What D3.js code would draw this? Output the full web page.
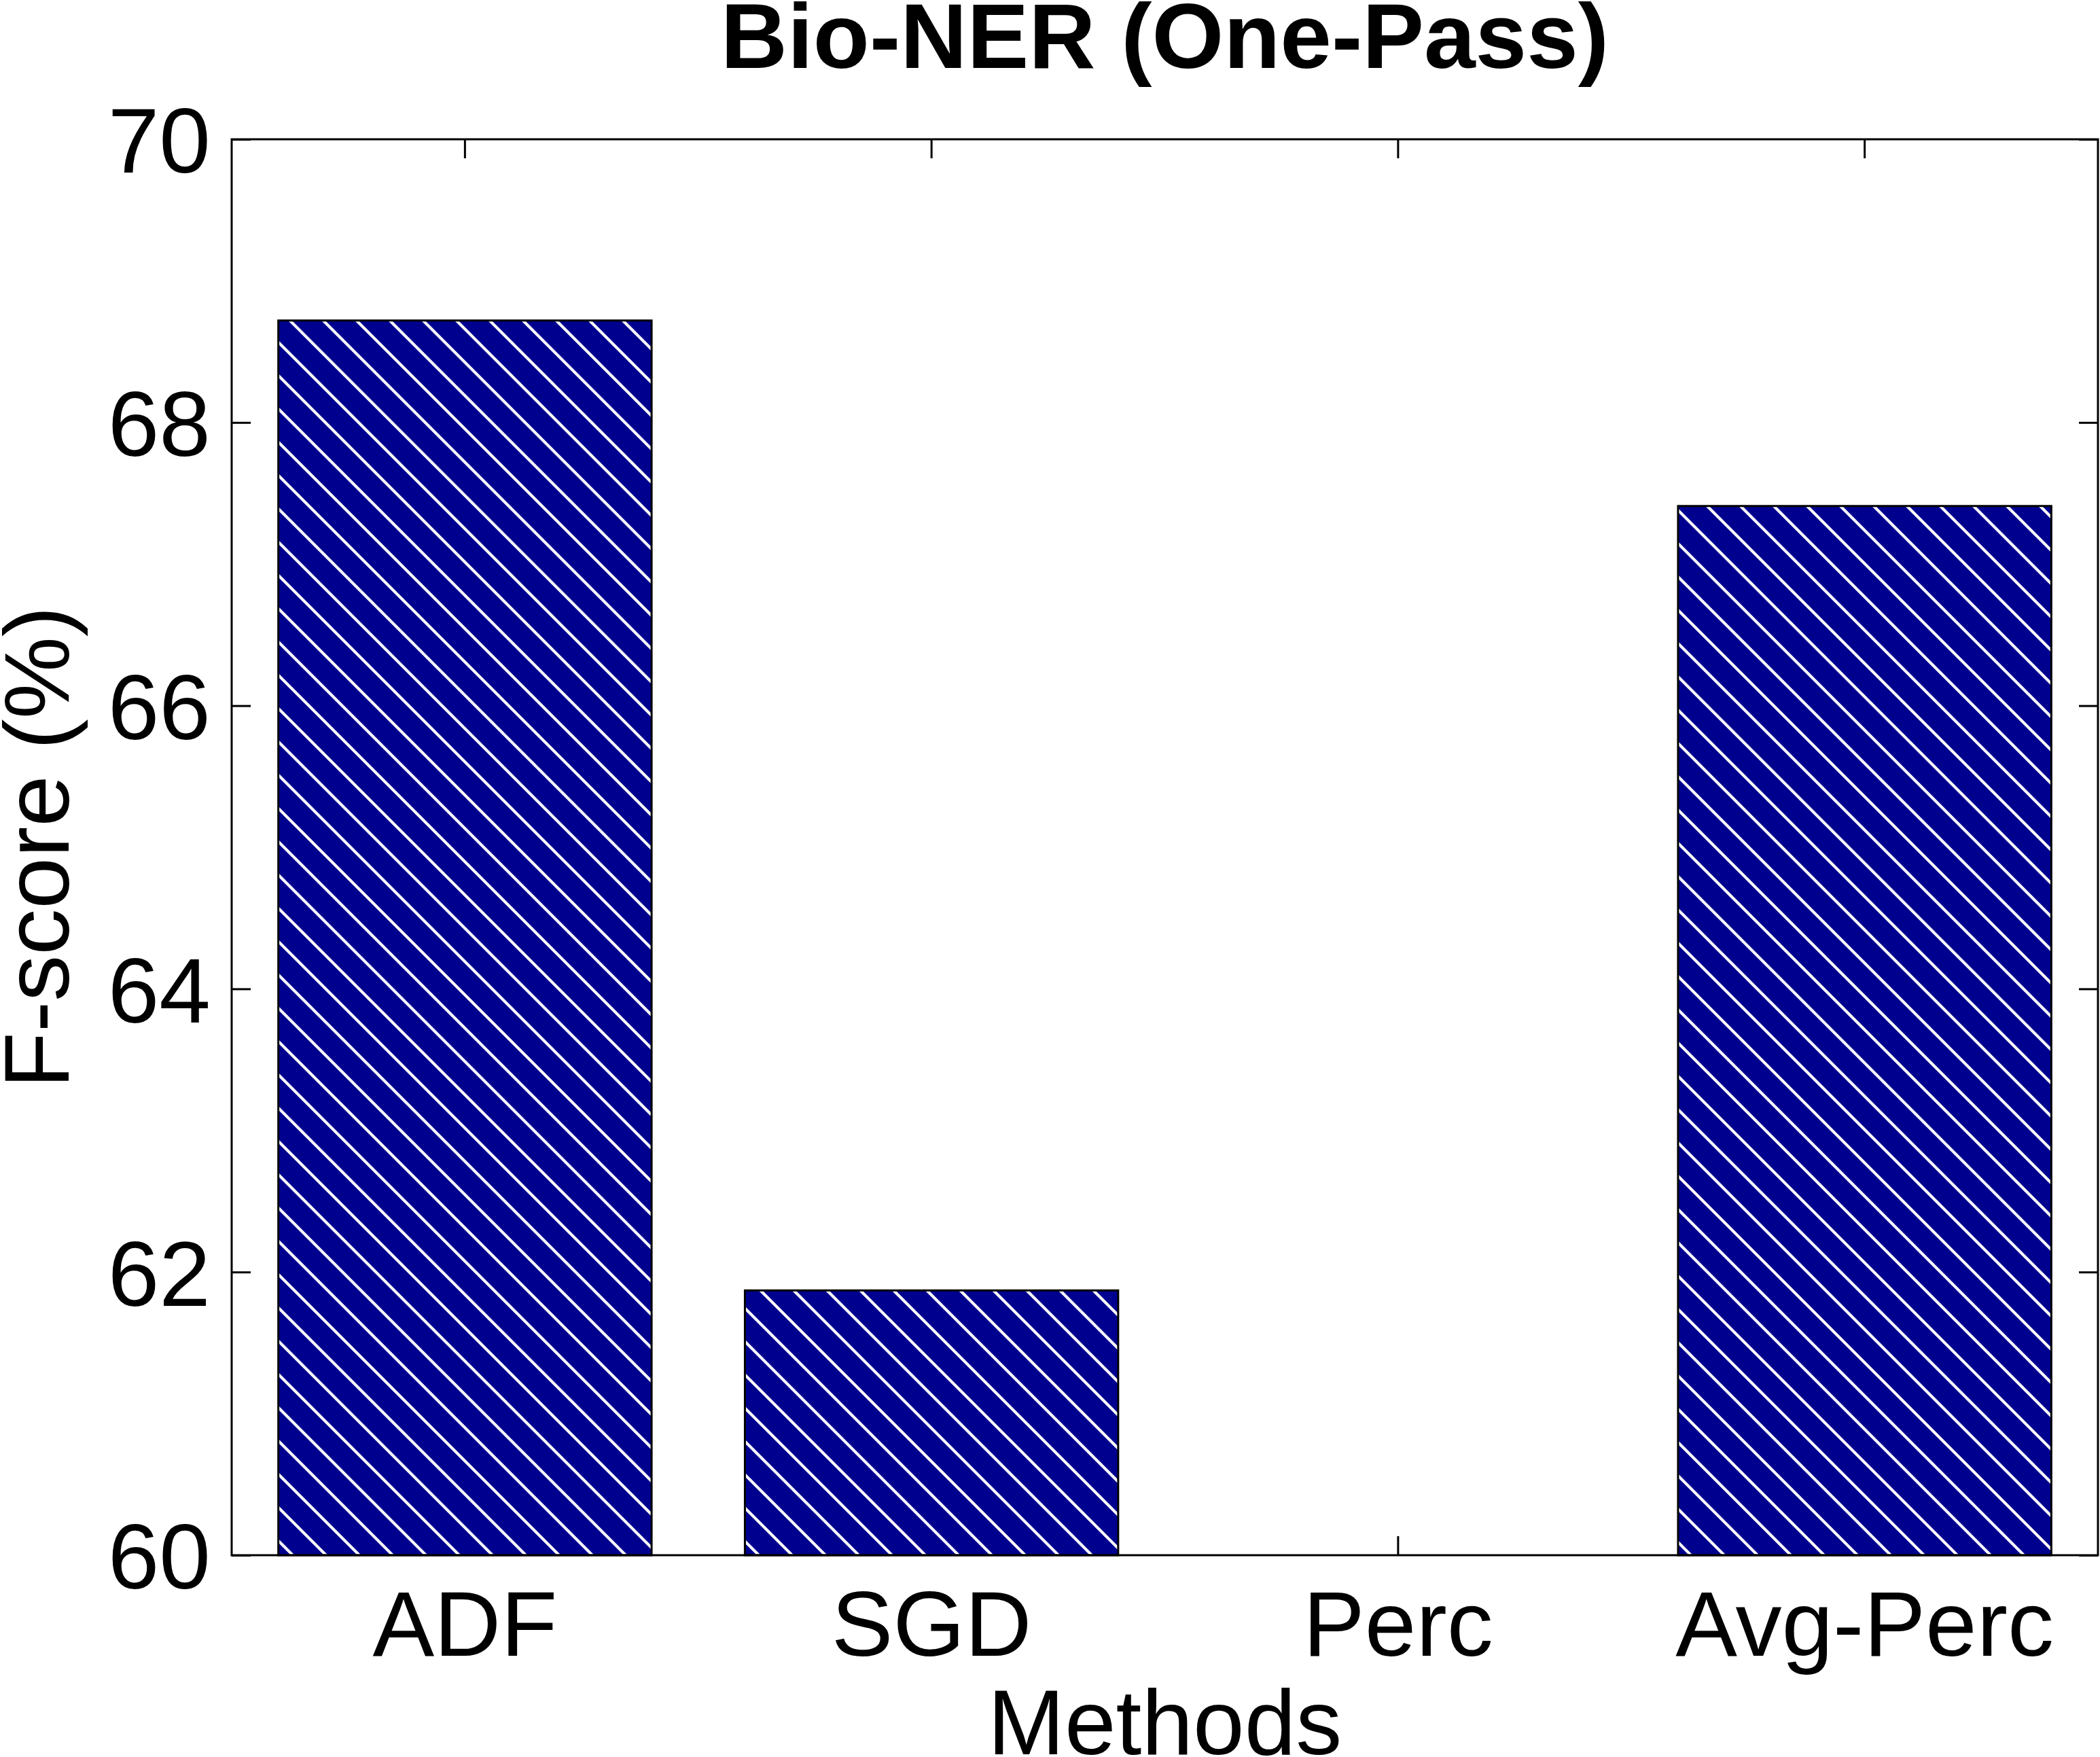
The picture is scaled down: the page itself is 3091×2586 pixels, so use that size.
<!DOCTYPE html>
<html>
<head>
<meta charset="utf-8">
<script src="https://cdn.jsdelivr.net/npm/d3@7"></script>
<style>
  html, body { margin: 0; padding: 0; background: #ffffff; }
  svg { display: block; }
</style>
</head>
<body>
<script>
// ---- data ----
const categories = ["ADF", "SGD", "Perc", "Avg-Perc"];
const fscores = [68.72, 61.87, 58.5, 67.41];   // Perc lies below the 60 axis floor
const yTicks = [60, 62, 64, 66, 68, 70];
const yDomain = [60, 70];
const chartTitle = "Bio-NER (One-Pass)";
const xLabel = "Methods";
const yLabel = "F-score (%)";

// ---- layout ----
const W = 3091, H = 2586;
const plot = { left: 341, right: 3088, top: 205, bottom: 2289 };
const font = "'Liberation Sans', Arial, Helvetica, sans-serif";
const fs = 136;
const navy = "#00008f";

const svg = d3.select("body").append("svg")
  .attr("width", W).attr("height", H)
  .style("background", "#ffffff");

// hatch pattern (absolute user space)
const defs = svg.append("defs");
const pat = defs.append("pattern")
  .attr("id", "hatch")
  .attr("patternUnits", "userSpaceOnUse")
  .attr("x", 4).attr("y", 0)
  .attr("width", 49).attr("height", 49);
pat.append("rect").attr("width", 49).attr("height", 49).attr("fill", navy);
pat.append("path")
  .attr("d", "M-6,-6 L55,55 M43,-6 L55,6 M-6,43 L6,55")
  .attr("stroke", "#ffffff").attr("stroke-width", 4.2).attr("fill", "none");

const x = d3.scaleBand()
  .domain(categories)
  .range([plot.left, plot.right])
  .paddingInner(0.2)
  .paddingOuter(0.1);

const y = d3.scaleLinear().domain(yDomain).range([plot.bottom, plot.top]);

const tickLen = 28;

function styleAxis(g) {
  g.select(".domain").remove();
  g.selectAll(".tick line").attr("stroke", "#000").attr("stroke-width", 3);
  g.selectAll(".tick text")
    .attr("fill", "#000")
    .style("font-family", font)
    .style("font-size", fs + "px");
}

// axes (ticks drawn beneath the bars, as in the original)
svg.append("g")
  .attr("transform", `translate(0,${plot.bottom})`)
  .call(d3.axisBottom(x).tickSizeInner(-tickLen).tickSizeOuter(0).tickPadding(51))
  .call(styleAxis);

svg.append("g")
  .attr("transform", `translate(0,${plot.top})`)
  .call(d3.axisTop(x).tickSizeInner(-tickLen).tickSizeOuter(0).tickFormat(""))
  .call(styleAxis);

svg.append("g")
  .attr("transform", `translate(${plot.left},0)`)
  .call(d3.axisLeft(y).tickValues(yTicks).tickSizeInner(-tickLen).tickSizeOuter(0).tickPadding(31).tickFormat(d3.format("d")))
  .call(styleAxis)
  .call(g => g.selectAll(".tick text").attr("dy", "0.36em"));

svg.append("g")
  .attr("transform", `translate(${plot.right},0)`)
  .call(d3.axisRight(y).tickValues(yTicks).tickSizeInner(-tickLen).tickSizeOuter(0).tickFormat(""))
  .call(styleAxis);

// bars
const data = categories.map((c, i) => ({ c, v: fscores[i] }));
svg.append("g")
  .selectAll("rect")
  .data(data)
  .join("rect")
  .attr("x", d => x(d.c))
  .attr("width", x.bandwidth())
  .attr("y", d => y(Math.max(d.v, yDomain[0])))
  .attr("height", d => y(yDomain[0]) - y(Math.max(d.v, yDomain[0])))
  .attr("fill", "url(#hatch)")
  .attr("stroke", "#000")
  .attr("stroke-width", 3);

// axes box
svg.append("rect")
  .attr("x", plot.left).attr("y", plot.top)
  .attr("width", plot.right - plot.left)
  .attr("height", plot.bottom - plot.top)
  .attr("fill", "none")
  .attr("stroke", "#000")
  .attr("stroke-width", 3);

// title
svg.append("text")
  .attr("x", (plot.left + plot.right) / 2)
  .attr("y", 100)
  .attr("text-anchor", "middle")
  .style("font-family", font)
  .style("font-size", fs + "px")
  .style("font-weight", "bold")
  .text(chartTitle);

// x label
svg.append("text")
  .attr("x", (plot.left + plot.right) / 2)
  .attr("y", 2582)
  .attr("text-anchor", "middle")
  .style("font-family", font)
  .style("font-size", fs + "px")
  .text(xLabel);

// y label
svg.append("text")
  .attr("transform", `translate(101,${(plot.top + plot.bottom) / 2}) rotate(-90)`)
  .attr("text-anchor", "middle")
  .style("font-family", font)
  .style("font-size", fs + "px")
  .text(yLabel);
</script>
</body>
</html>
